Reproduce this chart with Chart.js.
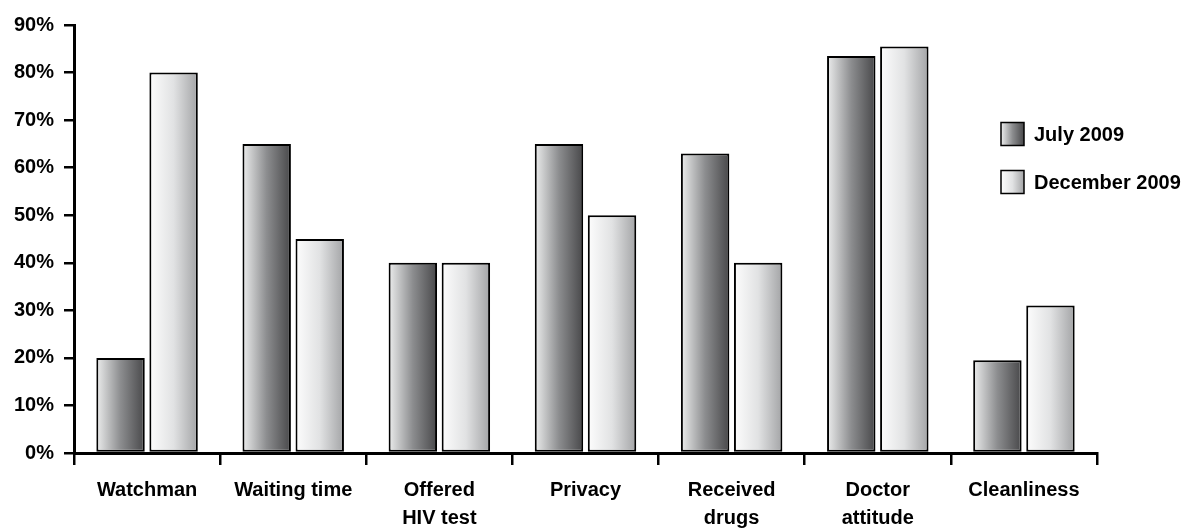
<!DOCTYPE html>
<html><head><meta charset="utf-8">
<script src="https://cdn.jsdelivr.net/npm/chart.js@4/dist/chart.umd.min.js"></script>
<style>html,body{margin:0;padding:0;background:#fff}#wrap{width:1186px;height:528px;position:relative}</style>
</head><body><div id="wrap"><canvas id="c" width="1186" height="528"></canvas></div>
<script>
const categories = ['Watchman', 'Waiting time', ['Offered', 'HIV test'], 'Privacy', ['Received', 'drugs'], ['Doctor', 'attitude'], 'Cleanliness'];
const seriesNames = ['July 2009', 'December 2009'];
const july2009 = [20, 65, 40, 65, 63, 83.5, 19.5];
const december2009 = [80, 45, 40, 50, 40, 85.5, 31];
const yTickValues = [0, 10, 20, 30, 40, 50, 60, 70, 80, 90];

const FONT_FAMILY = "'Liberation Sans', Arial, sans-serif";
const FONT = { family: FONT_FAMILY, size: 20, weight: 'bold', lineHeight: 1.42 };
const gradStops = [
  [[0, '#eceded'], [0.5, '#8c8d8f'], [1, '#48484a']],
  [[0, '#fdfdfd'], [0.5, '#e1e2e3'], [1, '#a3a4a6']]
];

function makeGrad(ctx, x0, x1, stops) {
  const g = ctx.createLinearGradient(x0, 0, x1, 0);
  stops.forEach(s => g.addColorStop(s[0], s[1]));
  return g;
}

const gradientPlugin = {
  id: 'gradBars',
  beforeDatasetsDraw(chart) {
    const ctx = chart.ctx;
    chart.data.datasets.forEach((ds, di) => {
      const meta = chart.getDatasetMeta(di);
      meta.data.forEach(el => {
        const w = el.width;
        const opts = Object.assign({}, el.options);
        opts.backgroundColor = makeGrad(ctx, el.x - w / 2, el.x + w / 2, gradStops[di]);
        el.options = opts;
      });
    });
  }
};

const legendPlugin = {
  id: 'customLegend',
  afterDraw(chart) {
    const ctx = chart.ctx;
    const bx = 1001, size = 23, rowY = [134, 182], tx = 1034;
    ctx.save();
    chart.data.datasets.forEach((ds, di) => {
      const cy = rowY[di];
      const y0 = cy - size / 2;
      ctx.fillStyle = makeGrad(ctx, bx, bx + size, gradStops[di]);
      ctx.fillRect(bx, y0, size, size);
      ctx.lineWidth = 1.5;
      ctx.strokeStyle = '#000';
      ctx.strokeRect(bx, y0, size, size);
      ctx.fillStyle = '#000';
      ctx.font = `bold 20px ${FONT_FAMILY}`;
      ctx.textBaseline = 'middle';
      ctx.textAlign = 'left';
      ctx.fillText(ds.label, tx, cy + 1);
    });
    ctx.restore();
  }
};

const barStyle = {
  categoryPercentage: 0.726,
  barPercentage: 0.913,
  borderColor: '#000',
  borderWidth: 2,
  borderSkipped: false,
  backgroundColor: '#888'
};

new Chart(document.getElementById('c'), {
  type: 'bar',
  data: {
    labels: categories,
    datasets: [
      Object.assign({ label: seriesNames[0], data: july2009 }, barStyle),
      Object.assign({ label: seriesNames[1], data: december2009 }, barStyle)
    ]
  },
  options: {
    responsive: false,
    devicePixelRatio: 1,
    animation: false,
    layout: { padding: { top: 25, right: 89, left: 0, bottom: 0 } },
    plugins: { legend: { display: false }, tooltip: { enabled: false } },
    scales: {
      y: {
        min: 0, max: 90,
        afterFit(scale) { scale.width = 74; },
        afterBuildTicks(scale) { scale.ticks = yTickValues.map(v => ({ value: v })); },
        ticks: { font: FONT, color: '#000', padding: 10, callback: v => v + '%' },
        grid: { drawOnChartArea: false, drawTicks: true, tickLength: 10, color: '#000', lineWidth: 2.5 },
        border: { color: '#000', width: 3 }
      },
      x: {
        afterFit(scale) { scale.height = 75; },
        ticks: { font: FONT, color: '#000', padding: 11, maxRotation: 0, autoSkip: false },
        grid: { offset: true, drawOnChartArea: false, drawTicks: true, tickLength: 12, color: '#000', lineWidth: 2.5 },
        border: { color: '#000', width: 3 }
      }
    }
  },
  plugins: [gradientPlugin, legendPlugin]
});
</script></body></html>
